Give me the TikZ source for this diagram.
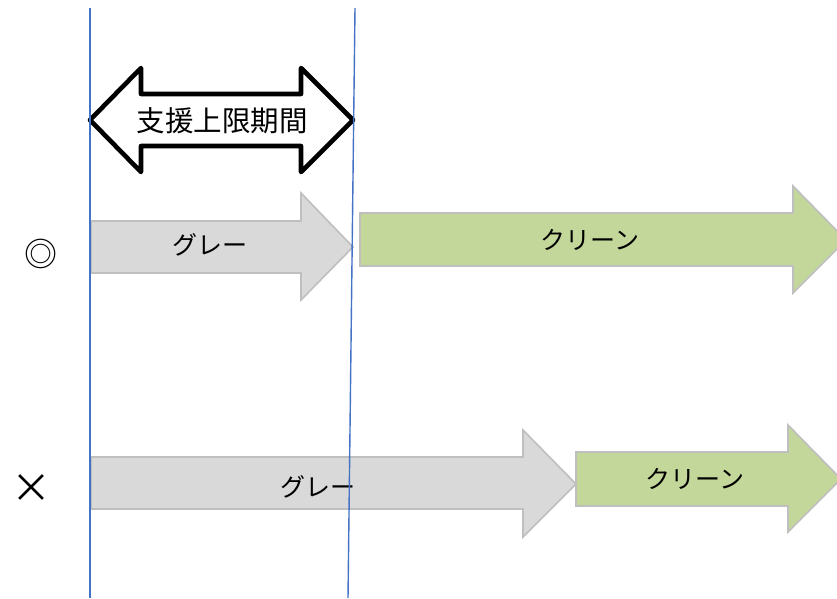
\documentclass[tikz,border=0pt]{standalone}
\usepackage{fontspec}
\newfontfamily\jp{Noto Sans CJK JP}
\definecolor{bargray}{HTML}{D9D9D9}
\definecolor{bargreen}{HTML}{C4D79B}
\definecolor{barline}{HTML}{BFBFBF}
\definecolor{guideblue}{HTML}{4472C4}
\tikzset{
  graybar/.style={fill=bargray, draw=barline, line width=1.6pt, line join=miter},
  greenbar/.style={fill=bargreen, draw=barline, line width=1.6pt, line join=miter},
  guide/.style={draw=guideblue, line width=1.4pt},
  lbl/.style={font=\jp\fontsize{25}{28}\selectfont, inner sep=0pt, text=black},
  biglbl/.style={font=\jp\fontsize{28.5}{30}\selectfont, inner sep=0pt, text=black},
  symlbl/.style={font=\jp\fontsize{33}{36}\selectfont, inner sep=0pt, text=black},
  crosslbl/.style={font=\jp\fontsize{40}{44}\selectfont, inner sep=0pt, text=black}
}
\begin{document}
\begin{tikzpicture}[x=1pt,y=-1pt]
\useasboundingbox (0,0) rectangle (837,598);
\clip (0,0) rectangle (837,598);
\fill[white] (0,0) rectangle (837,598);

% double arrow (support limit period)
\draw[line width=4.6pt, line join=round, fill=white]
  (90,120) -- (141,68) -- (141,94) -- (301,94) -- (301,68) -- (353,120)
  -- (301,172) -- (301,146) -- (141,146) -- (141,172) -- cycle;
\node[biglbl] (period) at (222,121) {支援上限期間};

% row 1
\draw[graybar] (91,221) -- (301,221) -- (301,193) -- (353,247) -- (301,300) -- (301,273) -- (91,273) -- cycle;
\node[lbl] (gray1) at (210,245) {グレー};
\draw[greenbar] (360,213) -- (793,213) -- (793,186) -- (846,240) -- (793,293) -- (793,266) -- (360,266) -- cycle;
\node[lbl] (green1) at (590,240) {クリーン};
\node[symlbl] (good) at (41,254) {◎};

% row 2
\draw[graybar] (91,457) -- (523,457) -- (523,430) -- (576,484) -- (523,537) -- (523,509) -- (91,509) -- cycle;
\node[lbl] (gray2) at (318,487) {グレー};
\draw[greenbar] (576,452) -- (788,452) -- (788,425) -- (841,479) -- (788,532) -- (788,506) -- (576,506) -- cycle;
\node[lbl] (green2) at (695,479) {クリーン};
\node[crosslbl] (bad) at (32,489) {×};

% guide lines
\coordinate (l1) at (90,8);
\coordinate (l2) at (90,598);
\coordinate (r1) at (355,8);
\coordinate (r2) at (348,598);
\draw[guide] (l1) -- (l2);
\draw[guide] (r1) -- (r2);
\end{tikzpicture}
\end{document}
